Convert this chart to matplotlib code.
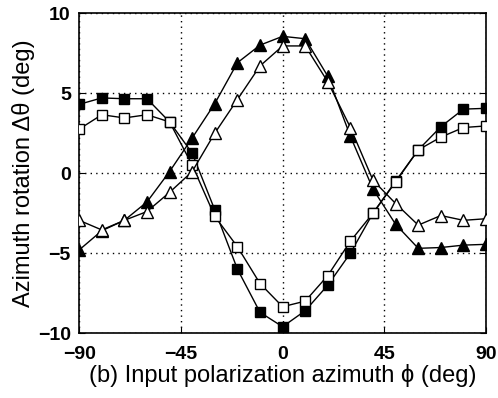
import matplotlib
matplotlib.use('Agg')
import matplotlib.pyplot as plt

plt.rcParams['font.family'] = ['Liberation Sans', 'DejaVu Sans']

phi = [-90, -80, -70, -60, -50, -40, -30, -20, -10, 0, 10, 20, 30, 40, 50, 60, 70, 80, 90]

sq_filled = [4.3, 4.7, 4.65, 4.65, 3.2, 1.25, -2.3, -6.0, -8.7, -9.6, -8.6, -7.0, -5.0, -2.5, -0.5, 1.45, 2.9, 4.0, 4.05]
sq_open = [2.75, 3.65, 3.45, 3.65, 3.2, 0.5, -2.7, -4.6, -6.9, -8.35, -8.0, -6.4, -4.25, -2.5, -0.55, 1.45, 2.25, 2.85, 2.95]
tri_filled = [-4.8, -3.6, -2.95, -1.8, 0.1, 2.2, 4.35, 6.9, 8.0, 8.55, 8.4, 6.05, 2.3, -1.0, -3.2, -4.7, -4.65, -4.5, -4.45]
tri_open = [-2.95, -3.55, -2.95, -2.4, -1.2, 0.1, 2.5, 4.6, 6.7, 7.95, 7.95, 5.7, 2.85, -0.45, -1.9, -3.25, -2.65, -2.95, -2.85]

fig = plt.figure(figsize=(4.98, 3.98), dpi=100)
ax = fig.add_axes([0.159, 0.163, 0.817, 0.804])

ax.plot(phi, sq_filled, color='black', lw=1, marker='s', ms=7, mfc='black', mec='black', zorder=3)
ax.plot(phi, sq_open, color='black', lw=1, marker='s', ms=7, mfc='white', mec='black', zorder=4)
ax.plot(phi, tri_filled, color='black', lw=1, marker='^', ms=8, mfc='black', mec='black', zorder=3)
ax.plot(phi, tri_open, color='black', lw=1, marker='^', ms=8, mfc='white', mec='black', zorder=4)

ax.set_xlim(-90, 90)
ax.set_ylim(-10, 10)
ax.set_xticks([-90, -45, 0, 45, 90])
ax.set_yticks([-10, -5, 0, 5, 10])
ax.grid(True, color='black', linestyle=(0, (1, 3)), linewidth=1)
ax.tick_params(direction='in', length=4, right=True, top=False, labelsize=14)
ax.tick_params(axis='x', pad=9)
ax.tick_params(axis='y', pad=6)
for lbl in ax.get_xticklabels() + ax.get_yticklabels():
    lbl.set_fontweight('bold')
for s in ax.spines.values():
    s.set_linewidth(1.2)

ax.set_xlabel('(b) Input polarization azimuth ϕ (deg)', fontsize=17, labelpad=1)
ax.set_ylabel('Azimuth rotation Δθ (deg)', fontsize=17, labelpad=2)

fig.savefig('out.png', dpi=100)
